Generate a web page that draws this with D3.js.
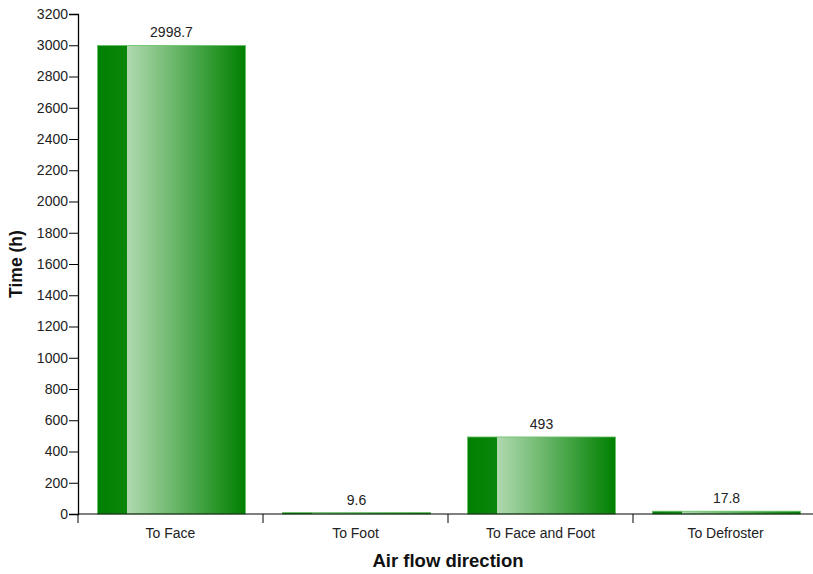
<!DOCTYPE html>
<html><head><meta charset="utf-8">
<script src="https://cdn.jsdelivr.net/npm/d3@7"></script>
<style>body{margin:0;background:#fff;}svg{display:block;font-family:Arial,"Liberation Sans",sans-serif;}</style>
</head><body>
<svg id="c" width="813" height="574"></svg>
<script>
const categories = ["To Face", "To Foot", "To Face and Foot", "To Defroster"];
const values = [2998.7, 9.6, 493, 17.8];
const valueLabels = ["2998.7", "9.6", "493", "17.8"];
const yTicks = d3.range(0, 3201, 200);
const xTitle = "Air flow direction";
const yTitle = "Time (h)";

(function () {
const svg = d3.select("#c");
const mLeft = 78, mRight = 818, mTop = 14, mBottom = 514;
const fs = 14;
const x = d3.scaleBand().domain(categories).range([mLeft, mRight]).paddingInner(0).paddingOuter(0);
const y = d3.scaleLinear().domain([0, 3200]).range([mBottom, mTop]);

const defs = svg.append("defs");
const g = defs.append("linearGradient").attr("id", "barGrad").attr("x1", "0").attr("x2", "1").attr("y1", "0").attr("y2", "0");
[[0, "#008000"], [0.2, "#0b860b"], [0.2, "#b0d9b0"], [0.5, "#6fb96f"], [0.8, "#2a962a"], [1, "#008000"]]
  .forEach(([o, c]) => g.append("stop").attr("offset", o).attr("stop-color", c));

const bw = x.bandwidth() * 0.8;
svg.append("g").selectAll("rect").data(values).join("rect")
  .attr("x", (d, i) => x(categories[i]) + x.bandwidth() / 2 - bw / 2 + 1)
  .attr("width", bw)
  .attr("y", d => y(d))
  .attr("height", d => Math.max(0, y(0) - y(d)))
  .attr("fill", "url(#barGrad)")
  .attr("stroke", "#66c266").attr("stroke-width", 0.8);

svg.append("g").selectAll("text").data(values).join("text")
  .attr("x", (d, i) => x(categories[i]) + x.bandwidth() / 2 + 1)
  .attr("y", d => y(d) - 8)
  .attr("text-anchor", "middle").attr("font-size", fs).attr("fill", "#222")
  .text((d, i) => valueLabels[i]);

const ya = svg.append("g").attr("transform", `translate(${mLeft},0)`)
  .call(d3.axisLeft(y).tickValues(yTicks).tickSize(9).tickPadding(1).tickFormat(d3.format("d")));
ya.selectAll("text").attr("font-size", fs).attr("fill", "#222").attr("font-family", "Arial,'Liberation Sans',sans-serif");
ya.select(".domain").attr("stroke", "#000").attr("stroke-width", 1.3);

const xa = svg.append("g").attr("transform", `translate(0,${mBottom})`);
xa.append("line").attr("x1", mLeft).attr("x2", mRight).attr("stroke", "#000").attr("stroke-width", 1);
const bounds = categories.map(c => x(c)).concat([mRight]);
xa.selectAll("line.t").data(bounds).join("line").attr("class", "t")
  .attr("x1", d => d).attr("x2", d => d).attr("y1", 0).attr("y2", 9).attr("stroke", "#000");
xa.selectAll("text").data(categories).join("text")
  .attr("x", d => x(d) + x.bandwidth() / 2).attr("y", 24)
  .attr("text-anchor", "middle").attr("font-size", fs).attr("fill", "#222").text(d => d);

svg.append("text").attr("x", 448).attr("y", 567).attr("text-anchor", "middle")
  .attr("font-size", 18.5).attr("font-weight", "bold").attr("fill", "#111").text(xTitle);
svg.append("text").attr("transform", "translate(22,264) rotate(-90)").attr("text-anchor", "middle")
  .attr("font-size", 17.5).attr("font-weight", "bold").attr("fill", "#111").text(yTitle);
})();
</script>
</body></html>
